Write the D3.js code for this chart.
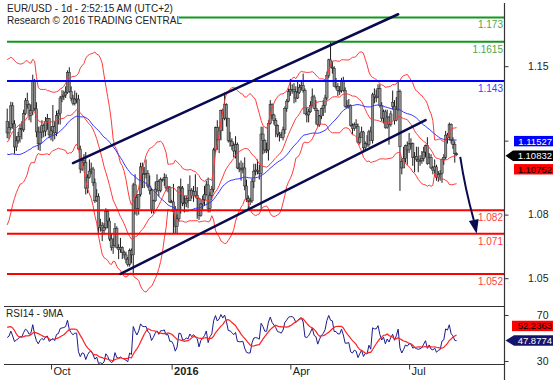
<!DOCTYPE html>
<html><head><meta charset="utf-8">
<script src="https://cdn.jsdelivr.net/npm/d3@7"></script>
<style>
body{margin:0;background:#fff}
svg{display:block}
text{font-family:Arial,"Liberation Sans",sans-serif}
</style>
</head><body>
<svg id="c" width="557" height="380"></svg>
<script>
// ---------------- DATA ----------------
const startDate = "2015-08-28";           // first visible daily bar (weekdays only)
// closes before the first visible bar (needed for the moving averages / RSI)
const warmupClose = [
 1.1340,1.1165,1.1200,1.1200,1.1165,
 1.1235,1.1145,1.1055,1.1090,1.1110,
 1.1055,1.1005,1.1080,1.1040,1.1160,
 1.1005,1.1015,1.0950,1.0885,1.0830,
 1.0825,1.0935,1.0930,1.0985,1.0980,
 1.1090,1.1060,1.0985,1.0930,1.0985,
 1.0955,1.0890,1.0900,1.0925,1.0965,
 1.1015,1.1040,1.1160,1.1150,1.1105,
 1.1080,1.1025,1.1115,1.1240,1.1385,
 1.1615,1.1520,1.1320,1.1240];

const barOpen = [1.1240,
 1.1185,1.1211,1.1313,1.1228,1.1119,
 1.1148,1.1168,1.1205,1.1200,1.1276,
 1.1337,1.1318,1.1268,1.1290,1.1434,
 1.1299,1.1190,1.1134,1.1189,1.1219,
 1.1194,1.1240,1.1253,1.1176,1.1195,
 1.1215,1.1186,1.1267,1.1277,1.1350,
 1.1358,1.1364,1.1377,1.1471,1.1381,
 1.1349,1.1325,1.1345,1.1345,1.1109,
 1.1015,1.1055,1.1045,1.0925,1.0975,
 1.1005,1.1015,1.0950,1.0865,1.0885,
 1.0740,1.0750,1.0725,1.0740,1.0815,
 1.0770,1.0685,1.0645,1.0655,1.0735,
 1.0645,1.0635,1.0645,1.0620,1.0610,
 1.0590,1.0565,1.0630,1.0610,1.0940,
 1.0880,1.0830,1.0895,1.1025,1.0995,
 1.0990,1.0995,1.0935,1.0915,1.0825,
 1.0865,1.0920,1.0955,1.0915,1.0965,
 1.0965,1.0975,1.0925,1.0930,1.0860,
 1.0860,1.0825,1.0745,1.0780,1.0930,
 1.0925,1.0855,1.0855,1.0875,1.0865,
 1.0915,1.0890,1.0910,1.0890,1.0875,
 1.0795,1.0850,1.0870,1.0895,1.0940,
 1.0830,1.0890,1.0920,1.1105,1.1210,
 1.1155,1.1195,1.1290,1.1255,1.1320,
 1.1255,1.1150,1.1145,1.1125,1.1100,
 1.1130,1.1020,1.1015,1.1015,1.1020,
 1.0935,1.0875,1.0865,1.0865,1.0955,
 1.1005,1.1010,1.1005,1.0995,1.1180,
 1.1150,1.1105,1.1105,1.1230,1.1320,
 1.1270,1.1245,1.1220,1.1180,1.1175,
 1.1165,1.1200,1.1300,1.1335,1.1380,
 1.1390,1.1390,1.1380,1.1350,1.1375,
 1.1400,1.1410,1.1385,1.1275,1.1270,
 1.1285,1.1315,1.1355,1.1300,1.1290,
 1.1225,1.1265,1.1300,1.1315,1.1350,
 1.1455,1.1530,1.1495,1.1490,1.1405,
 1.1405,1.1385,1.1385,1.1430,1.1385,
 1.1310,1.1310,1.1315,1.1220,1.1205,
 1.1225,1.1215,1.1140,1.1165,1.1190,
 1.1115,1.1135,1.1130,1.1190,1.1150,
 1.1365,1.1355,1.1355,1.1395,1.1315,
 1.1255,1.1285,1.1210,1.1260,1.1225,
 1.1330,1.1310,1.1245,1.1295,1.1380,
 1.1050,1.1020,1.1065,1.1125,1.1105,
 1.1135,1.1135,1.1070,1.1075,1.1060,
 1.1050,1.1055,1.1065,1.1095,1.1125,
 1.1040,1.1070,1.1020,1.1010,1.1025,
 1.0975,1.0990,1.0995,1.1060,1.1070,
 1.1175,1.1165,1.1225,1.1150,1.1130,
 1.1087];

const barHigh = [1.1300,
 1.1240,1.1332,1.1330,1.1245,1.1170,
 1.1190,1.1225,1.1240,1.1295,1.1350,
 1.1375,1.1325,1.1320,1.1460,1.1440,
 1.1330,1.1215,1.1215,1.1245,1.1230,
 1.1260,1.1275,1.1255,1.1215,1.1317,
 1.1240,1.1290,1.1295,1.1360,1.1387,
 1.1385,1.1405,1.1480,1.1495,1.1405,
 1.1365,1.1385,1.1375,1.1365,1.1125,
 1.1065,1.1085,1.1095,1.0990,1.1060,
 1.1045,1.1025,1.0970,1.0920,1.0900,
 1.0780,1.0765,1.0760,1.0830,1.0825,
 1.0785,1.0710,1.0690,1.0760,1.0745,
 1.0660,1.0690,1.0650,1.0630,1.0625,
 1.0600,1.0640,1.0640,1.0950,1.0990,
 1.0895,1.0895,1.1045,1.1045,1.1025,
 1.1060,1.1010,1.0985,1.0925,1.0870,
 1.0955,1.0990,1.0965,1.0975,1.0970,
 1.0995,1.0990,1.0935,1.0935,1.0870,
 1.0945,1.0840,1.0800,1.0935,1.0970,
 1.0935,1.0890,1.0890,1.0945,1.0985,
 1.0925,1.0935,1.0990,1.0930,1.0880,
 1.0855,1.0890,1.0935,1.0960,1.0975,
 1.0905,1.0935,1.1115,1.1215,1.1245,
 1.1215,1.1295,1.1300,1.1376,1.1325,
 1.1255,1.1190,1.1160,1.1140,1.1170,
 1.1140,1.1045,1.1055,1.1045,1.1070,
 1.0965,1.0890,1.0880,1.0970,1.1040,
 1.1040,1.1060,1.1035,1.1215,1.1215,
 1.1155,1.1140,1.1245,1.1340,1.1325,
 1.1275,1.1255,1.1225,1.1190,1.1190,
 1.1215,1.1310,1.1345,1.1395,1.1440,
 1.1415,1.1420,1.1405,1.1435,1.1415,
 1.1435,1.1465,1.1395,1.1305,1.1300,
 1.1335,1.1395,1.1365,1.1340,1.1295,
 1.1270,1.1305,1.1340,1.1365,1.1475,
 1.1535,1.1616,1.1525,1.1500,1.1445,
 1.1420,1.1405,1.1445,1.1450,1.1400,
 1.1340,1.1345,1.1320,1.1230,1.1235,
 1.1250,1.1230,1.1185,1.1215,1.1195,
 1.1145,1.1175,1.1200,1.1215,1.1375,
 1.1395,1.1390,1.1415,1.1415,1.1330,
 1.1295,1.1295,1.1295,1.1265,1.1290,
 1.1385,1.1340,1.1355,1.1427,1.1390,
 1.1065,1.1120,1.1130,1.1145,1.1185,
 1.1160,1.1140,1.1095,1.1120,1.1120,
 1.1080,1.1100,1.1120,1.1130,1.1165,
 1.1090,1.1085,1.1030,1.1060,1.1035,
 1.1005,1.1010,1.1065,1.1085,1.1195,
 1.1185,1.1234,1.1230,1.1165,1.1145,
 1.1093];

const barLow = [1.1160,
 1.1155,1.1200,1.1205,1.1087,1.1100,
 1.1135,1.1140,1.1155,1.1190,1.1270,
 1.1300,1.1245,1.1235,1.1270,1.1290,
 1.1165,1.1105,1.1100,1.1160,1.1165,
 1.1170,1.1200,1.1160,1.1150,1.1145,
 1.1155,1.1170,1.1225,1.1225,1.1330,
 1.1340,1.1350,1.1370,1.1375,1.1335,
 1.1315,1.1315,1.1325,1.1105,1.0995,
 1.1005,1.1030,1.0895,1.0900,1.0970,
 1.0990,1.0935,1.0855,1.0860,1.0705,
 1.0720,1.0675,1.0705,1.0730,1.0735,
 1.0675,1.0630,1.0615,1.0650,1.0640,
 1.0590,1.0620,1.0590,1.0595,1.0570,
 1.0555,1.0555,1.0570,1.0524,1.0800,
 1.0795,1.0800,1.0885,1.0925,1.0925,
 1.0970,1.0925,1.0895,1.0805,1.0805,
 1.0860,1.0905,1.0885,1.0905,1.0955,
 1.0935,1.0910,1.0905,1.0855,1.0855,
 1.0710,1.0710,1.0710,1.0770,1.0805,
 1.0840,1.0810,1.0835,1.0830,1.0865,
 1.0875,1.0860,1.0880,1.0780,1.0775,
 1.0790,1.0825,1.0840,1.0890,1.0810,
 1.0810,1.0870,1.0905,1.1090,1.1105,
 1.1090,1.1150,1.1195,1.1245,1.1215,
 1.1140,1.1120,1.1105,1.1070,1.1065,
 1.1015,1.1000,1.0960,1.0995,1.0915,
 1.0860,1.0825,1.0845,1.0855,1.0925,
 1.0985,1.0990,1.0965,1.0822,1.1085,
 1.1090,1.1090,1.1055,1.1225,1.1250,
 1.1225,1.1165,1.1165,1.1145,1.1160,
 1.1150,1.1180,1.1285,1.1330,1.1360,
 1.1370,1.1325,1.1330,1.1345,1.1370,
 1.1385,1.1375,1.1275,1.1235,1.1235,
 1.1280,1.1310,1.1300,1.1225,1.1215,
 1.1215,1.1250,1.1265,1.1280,1.1340,
 1.1445,1.1495,1.1465,1.1405,1.1390,
 1.1360,1.1365,1.1375,1.1380,1.1305,
 1.1300,1.1300,1.1215,1.1180,1.1195,
 1.1205,1.1135,1.1130,1.1165,1.1100,
 1.1100,1.1120,1.1120,1.1160,1.1135,
 1.1325,1.1330,1.1350,1.1305,1.1240,
 1.1230,1.1205,1.1205,1.1130,1.1215,
 1.1295,1.1225,1.1240,1.1290,1.0912,
 1.0990,1.1020,1.1045,1.1035,1.1090,
 1.1110,1.1030,1.1000,1.1050,1.1000,
 1.1030,1.1040,1.1050,1.1070,1.1035,
 1.1040,1.1015,1.0990,1.0980,1.0960,
 1.0955,1.0960,1.0950,1.1035,1.1060,
 1.1135,1.1150,1.1135,1.1110,1.1045,
 1.1077];

const barClose = [1.1185,
 1.1211,1.1313,1.1228,1.1119,1.1148,
 1.1168,1.1205,1.1200,1.1276,1.1337,
 1.1318,1.1268,1.1290,1.1434,1.1299,
 1.1190,1.1134,1.1189,1.1219,1.1194,
 1.1240,1.1253,1.1176,1.1195,1.1215,
 1.1186,1.1267,1.1277,1.1350,1.1358,
 1.1364,1.1377,1.1471,1.1381,1.1349,
 1.1325,1.1345,1.1345,1.1109,1.1015,
 1.1055,1.1045,1.0925,1.0975,1.1005,
 1.1015,1.0950,1.0865,1.0885,1.0740,
 1.0750,1.0725,1.0740,1.0815,1.0770,
 1.0685,1.0645,1.0655,1.0735,1.0645,
 1.0635,1.0645,1.0620,1.0610,1.0590,
 1.0565,1.0630,1.0610,1.0940,1.0880,
 1.0830,1.0895,1.1025,1.0995,1.0990,
 1.0995,1.0935,1.0915,1.0825,1.0865,
 1.0920,1.0955,1.0915,1.0965,1.0965,
 1.0975,1.0925,1.0930,1.0860,1.0860,
 1.0825,1.0745,1.0780,1.0930,1.0925,
 1.0855,1.0855,1.0875,1.0865,1.0915,
 1.0890,1.0910,1.0890,1.0875,1.0795,
 1.0850,1.0870,1.0895,1.0940,1.0830,
 1.0890,1.0920,1.1105,1.1210,1.1155,
 1.1195,1.1290,1.1255,1.1320,1.1255,
 1.1150,1.1145,1.1125,1.1100,1.1130,
 1.1020,1.1015,1.1015,1.1020,1.0935,
 1.0875,1.0865,1.0865,1.0955,1.1005,
 1.1010,1.1005,1.0995,1.1180,1.1150,
 1.1105,1.1105,1.1230,1.1320,1.1270,
 1.1245,1.1220,1.1180,1.1175,1.1165,
 1.1200,1.1300,1.1335,1.1380,1.1390,
 1.1390,1.1380,1.1350,1.1375,1.1400,
 1.1410,1.1385,1.1275,1.1270,1.1285,
 1.1315,1.1355,1.1300,1.1290,1.1225,
 1.1265,1.1300,1.1315,1.1350,1.1455,
 1.1530,1.1495,1.1490,1.1405,1.1405,
 1.1385,1.1385,1.1430,1.1385,1.1310,
 1.1310,1.1315,1.1220,1.1205,1.1225,
 1.1215,1.1140,1.1165,1.1190,1.1115,
 1.1135,1.1130,1.1190,1.1150,1.1365,
 1.1355,1.1355,1.1395,1.1315,1.1255,
 1.1285,1.1210,1.1260,1.1225,1.1275,
 1.1310,1.1245,1.1295,1.1380,1.1120,
 1.1020,1.1065,1.1125,1.1105,1.1135,
 1.1135,1.1070,1.1075,1.1060,1.1050,
 1.1055,1.1065,1.1095,1.1125,1.1040,
 1.1070,1.1020,1.1010,1.1025,1.0975,
 1.0990,1.0995,1.1060,1.1070,1.1175,
 1.1165,1.1225,1.1150,1.1130,1.1087,
 1.10832];

// horizontal support / resistance levels
const resistanceLevels = [1.173, 1.1615];
const pivotLevels = [1.143];
const supportLevels = [1.082, 1.071, 1.052];
// trend channel (date, price)
const channelUpper = [["2015-10-19", 1.1043], ["2016-06-23", 1.1745]];
const channelLower = [["2015-11-24", 1.0520], ["2016-07-14", 1.1246]];
const arrowPath = [["2016-08-10", 1.1072], ["2016-08-23", 1.0710]];
// axis ticks
const priceTicks = [1.15, 1.08, 1.05];
const rsiTicks = [70, 30];
const monthTickDates = ["2015-10-01", "2016-01-01", "2016-04-01", "2016-07-01"];
const monthTickLabels = ["Oct", "2016", "Apr", "Jul"];
// last-value flags on the right axis
const priceFlags = [1.11527, 1.10832, 1.10752];   // SMA50, last close, mid band
const rsiFlags = [52.2363, 47.8774];              // RSI 9MA, RSI14
const titleLines = ["EUR/USD - 1d - 2:52:15 AM (UTC+2)", "Research \u00A9 2016 TRADING CENTRAL"];

// ---------------- CHART ----------------
const svg = d3.select("#c");
const nBars = barClose.length;
const parse = d3.utcParse("%Y-%m-%d"), fmt = d3.utcFormat("%Y-%m-%d");
const dates = [];
for (let d = parse(startDate); dates.length < nBars + 30; d = d3.utcDay.offset(d, 1)) {
  const wd = d.getUTCDay(); if (wd !== 0 && wd !== 6) dates.push(fmt(d));
}
const idx = s => dates.indexOf(s);

const AXX = 504.5;
const x = d3.scaleLinear().domain([0, nBars - 1]).range([7.2, 456.6]);
const y = d3.scaleLinear().domain([1.05, 1.15]).range([278.2, 66.2]);
const yR = d3.scaleLinear().domain([30, 70]).range([361, 315]);

// indicators
const allClose = warmupClose.concat(barClose);
const off = warmupClose.length;
const mid = [], upper = [], lower = [], ma50 = [];
for (let i = 0; i < nBars; i++) {
  const j = i + off;
  const w = allClose.slice(j - 19, j + 1);
  const m = d3.mean(w);
  const sd = Math.sqrt(d3.mean(w, v => (v - m) * (v - m)));
  mid.push(m); upper.push(m + 2 * sd); lower.push(m - 2 * sd);
  ma50.push(d3.mean(allClose.slice(j - 49, j + 1)));
}
const rsiAll = new Array(allClose.length).fill(null);
let ag = 0, al = 0;
for (let k = 1; k <= 14; k++) { const ch = allClose[k] - allClose[k - 1]; if (ch > 0) ag += ch; else al -= ch; }
ag /= 14; al /= 14; rsiAll[14] = 100 - 100 / (1 + ag / al);
for (let k = 15; k < allClose.length; k++) {
  const ch = allClose[k] - allClose[k - 1];
  ag = (ag * 13 + Math.max(ch, 0)) / 14; al = (al * 13 + Math.max(-ch, 0)) / 14;
  rsiAll[k] = al === 0 ? 100 : 100 - 100 / (1 + ag / al);
}
const rsi = [], rsiMa = [];
for (let i = 0; i < nBars; i++) {
  const j = i + off;
  rsi.push(rsiAll[j]);
  rsiMa.push(d3.mean(rsiAll.slice(j - 8, j + 1)));
}

const defs = svg.append("defs");
defs.append("clipPath").attr("id", "cm").append("rect").attr("x", 3).attr("y", 0).attr("width", AXX - 3).attr("height", 306);
defs.append("clipPath").attr("id", "cr").append("rect").attr("x", 3).attr("y", 307).attr("width", AXX - 3).attr("height", 57);

const gm = svg.append("g").attr("clip-path", "url(#cm)");

// bars
const bars = gm.append("g");
d3.range(nBars).forEach(i => {
  const cx = x(i);
  bars.append("line").attr("x1", cx).attr("x2", cx).attr("y1", y(barHigh[i])).attr("y2", y(barLow[i]))
    .attr("stroke", "#1a1a1a").attr("stroke-width", 1);
  const t = y(Math.max(barOpen[i], barClose[i])), b = y(Math.min(barOpen[i], barClose[i]));
  bars.append("rect").attr("x", cx - 1.2).attr("width", 2.4).attr("y", t).attr("height", Math.max(1, b - t))
    .attr("fill", "#8c8c8c").attr("stroke", "#222").attr("stroke-width", 0.5);
});

// bands & MA
const ln = arr => d3.line().x((d, i) => x(i)).y(d => y(d))(arr);
[upper, lower, mid].forEach(a => gm.append("path").attr("d", ln(a)).attr("fill", "none").attr("stroke", "#ff3a3a").attr("stroke-width", 1));
gm.append("path").attr("d", ln(ma50)).attr("fill", "none").attr("stroke", "#3535ff").attr("stroke-width", 1);

// levels
function level(v, lineColor, textColor) {
  gm.append("line").attr("x1", 7).attr("x2", AXX).attr("y1", y(v)).attr("y2", y(v)).attr("stroke", lineColor).attr("stroke-width", 2);
  gm.append("text").attr("x", 503).attr("y", y(v) + 11).attr("text-anchor", "end").attr("font-size", 10)
    .attr("fill", textColor).text(String(v));
}
resistanceLevels.forEach(v => level(v, "#11991a", "#4da84d"));
pivotLevels.forEach(v => level(v, "#0000ff", "#3c3cff"));
supportLevels.forEach(v => level(v, "#ff0000", "#ff4040"));

// channel lines
const navy = "#0a0a4e";
[channelUpper, channelLower].forEach(c => {
  gm.append("line").attr("x1", x(idx(c[0][0]))).attr("y1", y(c[0][1])).attr("x2", x(idx(c[1][0]))).attr("y2", y(c[1][1]))
    .attr("stroke", navy).attr("stroke-width", 2.5).attr("stroke-linecap", "round");
});

// forecast arrow
{
  const a0 = [x(idx(arrowPath[0][0])), y(arrowPath[0][1])], a1 = [x(idx(arrowPath[1][0])), y(arrowPath[1][1])];
  const ang = Math.atan2(a1[1] - a0[1], a1[0] - a0[0]);
  const hl = 14, hw = 5;
  const base = [a1[0] - hl * Math.cos(ang), a1[1] - hl * Math.sin(ang)];
  const px = -Math.sin(ang), py = Math.cos(ang);
  const ctrl = [(a0[0] + base[0]) / 2 - 2, (a0[1] + base[1]) / 2];
  gm.append("path").attr("d", `M${a0[0]},${a0[1]} Q${ctrl[0]},${ctrl[1]} ${base[0]},${base[1]}`)
    .attr("fill", "none").attr("stroke", navy).attr("stroke-width", 2);
  gm.append("path").attr("d", `M${a1[0]},${a1[1]} L${base[0] + px * hw},${base[1] + py * hw} L${base[0] - px * hw},${base[1] - py * hw} Z`)
    .attr("fill", navy);
}

// title
svg.append("rect").attr("x", 3).attr("y", 1).attr("width", 176).attr("height", 26).attr("fill", "#fff");
titleLines.forEach((t, i) => svg.append("text").attr("x", 7).attr("y", 12 + i * 12).attr("font-size", 10).attr("fill", "#222").text(t));

// RSI panel
const gr = svg.append("g").attr("clip-path", "url(#cr)");
const lnR = arr => d3.line().x((d, i) => x(i)).y(d => yR(d))(arr);
gr.append("path").attr("d", lnR(rsi)).attr("fill", "none").attr("stroke", "#1c1c8c").attr("stroke-width", 1);
gr.append("path").attr("d", lnR(rsiMa)).attr("fill", "none").attr("stroke", "#ff2020").attr("stroke-width", 1.2);
svg.append("text").attr("x", 6).attr("y", 317).attr("font-size", 10).attr("fill", "#222").text("RSI14 - 9MA");

// frame lines
svg.append("line").attr("x1", 4).attr("x2", AXX).attr("y1", 306.5).attr("y2", 306.5).attr("stroke", "#333").attr("stroke-width", 1.2);
svg.append("line").attr("x1", 4).attr("x2", AXX).attr("y1", 364.5).attr("y2", 364.5).attr("stroke", "#333").attr("stroke-width", 1.2);

// right price axis
const axP = svg.append("g").attr("transform", `translate(${AXX},0)`)
  .call(d3.axisRight(y).tickValues(priceTicks).tickSize(4).tickFormat(d3.format(".2f")));
axP.select(".domain").remove();
axP.append("line").attr("x1", 0).attr("x2", 0).attr("y1", 3).attr("y2", 380).attr("stroke", "#333").attr("stroke-width", 1.2);
axP.selectAll(".tick line").attr("stroke", "#333");
axP.selectAll(".tick text").attr("x", 44).attr("text-anchor", "end").attr("font-size", 10.5).attr("fill", "#222").attr("font-family", "Arial,'Liberation Sans',sans-serif");

const axR = svg.append("g").attr("transform", `translate(${AXX},0)`)
  .call(d3.axisRight(yR).tickValues(rsiTicks).tickSize(4));
axR.select(".domain").remove();
axR.selectAll(".tick line").attr("stroke", "#333");
axR.selectAll(".tick text").attr("x", 44).attr("text-anchor", "end").attr("font-size", 10.5).attr("fill", "#222").attr("font-family", "Arial,'Liberation Sans',sans-serif");

// bottom time axis
const axT = svg.append("g").attr("transform", "translate(0,364.5)")
  .call(d3.axisBottom(x).tickValues(monthTickDates.map(idx)).tickSize(5).tickFormat((d, i) => monthTickLabels[i]));
axT.select(".domain").remove();
axT.selectAll(".tick line").attr("stroke", "#333");
axT.selectAll(".tick text").attr("text-anchor", "start").attr("x", 2).attr("y", 3).attr("dy", "0.71em")
  .attr("font-size", 11).attr("fill", "#222").attr("font-family", "Arial,'Liberation Sans',sans-serif")
  .attr("font-weight", (d, i) => monthTickLabels[i] === "2016" ? "bold" : "normal");

// value flags
function flag(yc, fill, textFill, label, arrow, x0) {
  const top = yc - 5.2, bot = yc + 5.2;
  if (arrow) {
    svg.append("path").attr("d", `M${AXX + 1},${yc} L${x0},${top} L553,${top} L553,${bot} L${x0},${bot} Z`).attr("fill", fill);
  } else {
    svg.append("rect").attr("x", x0).attr("y", top).attr("width", 553 - x0).attr("height", bot - top).attr("fill", fill);
  }
  svg.append("text").attr("x", 552).attr("y", yc + 3.4).attr("text-anchor", "end").attr("font-size", 9.5)
    .attr("fill", textFill).text(label);
}
const yMa = y(priceFlags[0]) + 1.3, yCl = y(priceFlags[1]) + 1.2;
svg.append("line").attr("x1", AXX).attr("x2", AXX + 4).attr("y1", yMa).attr("y2", yMa).attr("stroke", "#333");
flag(yMa, "#0000ff", "#fff", String(priceFlags[0]), false, 514);
flag(yCl, "#000", "#fff", String(priceFlags[1]), true, 513);
flag(yCl + 13.5, "#ff0000", "#000", String(priceFlags[2]), false, 514);
const yRs = yR(rsiFlags[1]);
flag(yRs - 14.5, "#ff0000", "#000", String(rsiFlags[0]), false, 512);
flag(yRs, "#14146e", "#fff", String(rsiFlags[1]), true, 514);
</script>
</body></html>
